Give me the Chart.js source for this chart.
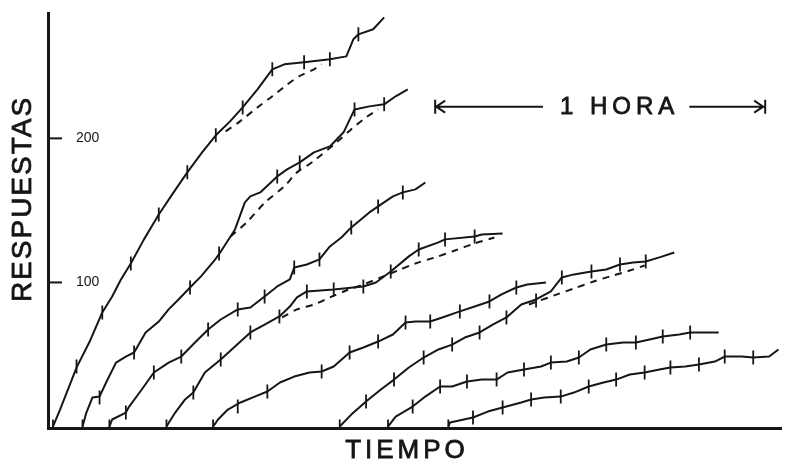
<!DOCTYPE html>
<html><head><meta charset="utf-8">
<script src="https://cdn.jsdelivr.net/npm/chart.js@4"></script>
<style>html,body{margin:0;padding:0;background:#fff}canvas{display:block}</style>
</head><body>
<canvas id="c" width="790" height="465"></canvas>
<script>
// ---- data: x = minutes, y = cumulative responses ----
const record1 = [[0.9,0],[2.2,11.8],[5.2,40.9],[7.6,59.0],[9.9,79.2],[11.7,90.3],[13.3,102.1],[15.1,113.2],[17.5,129.9],[20.2,147.2],[22.9,162.5],[25.4,176.4],[28.1,190.3],[30.6,202.1],[33.2,211.8],[35.5,221.5],[38.2,234.0],[40.9,247.9],[43.1,251.4],[46.7,252.8],[51.4,254.9],[54.4,256.9],[55.7,268.8],[56.6,272.2],[59.3,275.7],[61.3,284.0]];
const record2 = [[6.3,0],[7.0,9.7],[8.1,20.1],[9.4,20.8],[10.6,30.6],[12.4,44.4],[14.2,48.6],[15.7,51.4],[17.8,65.3],[20.2,72.9],[22.0,81.3],[23.8,88.2],[25.9,96.5],[27.9,104.2],[30.5,116.0],[31.4,120.8],[34.1,136.8],[35.9,155.6],[36.9,159.7],[38.7,162.5],[41.8,173.6],[43.6,178.5],[45.9,183.3],[48.5,190.3],[51.4,194.4],[53.9,204.2],[55.9,220.1],[58.6,222.2],[61.3,223.6],[63.4,229.2],[65.6,234.0]];
const record3 = [[11.2,0],[11.7,4.9],[14.2,9.7],[14.8,13.9],[17.1,25.7],[19.3,37.5],[22.0,44.4],[24.3,48.6],[26.8,58.3],[29.2,67.4],[31.5,74.3],[34.6,81.3],[36.9,82.6],[39.5,90.3],[41.8,97.2],[44.1,102.1],[44.9,110.4],[47.2,112.5],[49.5,116.0],[51.4,125.0],[53.5,131.2],[55.3,138.2],[58.6,148.6],[60.2,152.8],[62.9,159.7],[64.7,162.5],[67.0,164.6],[68.8,169.4]];
const record4 = [[21.6,0],[23.2,9.7],[25.0,18.8],[26.5,23.6],[28.6,37.5],[31.5,46.5],[34.1,55.6],[36.9,65.3],[39.5,70.8],[42.2,76.4],[44.1,83.3],[45.4,89.6],[47.2,93.8],[52.1,95.1],[57.5,97.2],[59.8,100.0],[62.5,107.6],[65.8,118.1],[67.6,122.9],[71.2,127.8],[72.4,129.9],[77.8,131.9],[79.1,133.3],[82.9,134.0]];
const record5 = [[30.1,0],[31.0,4.9],[32.8,11.8],[35.1,16.7],[37.7,20.8],[40.0,24.3],[42.3,30.6],[44.9,34.7],[47.7,37.5],[49.9,38.2],[52.1,41.7],[55.0,51.4],[57.5,54.9],[60.2,59.0],[62.9,63.9],[65.2,72.2],[67.0,72.9],[69.7,72.9],[71.9,75.7],[75.1,79.9],[77.8,83.3],[80.5,86.8],[82.7,91.7],[85.4,96.5],[87.4,98.6],[90.8,100.0]];
const record6 = [[53.2,0],[55.3,8.3],[58.0,17.4],[60.7,25.7],[63.1,32.6],[65.8,41.0],[68.5,47.9],[71.2,53.5],[73.7,56.9],[76.0,61.8],[78.7,65.3],[81.1,70.8],[83.6,75.7],[86.3,84.7],[89.0,88.2],[91.7,93.8],[93.7,103.5],[95.9,105.6],[99.1,107.6],[101.8,109.0],[104.3,112.5],[106.7,113.9],[109.0,114.6],[111.5,117.4],[114.2,120.8]];
const record7 = [[62.0,0],[63.4,6.9],[66.5,13.9],[68.8,20.8],[71.5,27.8],[73.7,27.8],[76.4,31.3],[79.1,32.6],[81.8,32.6],[83.8,37.5],[86.8,39.6],[89.9,41.7],[91.7,44.4],[94.6,45.1],[96.8,47.9],[98.9,53.5],[101.8,56.9],[104.9,58.3],[107.2,58.3],[109.7,60.4],[112.1,62.5],[115.1,63.9],[117.1,65.3],[122.3,65.3]];
const record8 = [[73.0,0],[73.3,2.8],[77.5,6.3],[80.2,10.4],[82.9,13.2],[86.3,16.7],[88.1,18.8],[90.5,20.1],[93.5,20.8],[95.9,23.6],[98.6,27.8],[101.3,30.6],[103.6,32.6],[106.1,36.1],[108.8,37.5],[111.5,39.6],[113.5,41.0],[116.2,41.7],[118.7,43.1],[121.6,45.1],[123.4,48.6],[126.5,48.6],[128.6,47.9],[131.5,48.6],[133.2,53.5]];

const pips1 = [[0.9,0],[5.2,41.7],[9.9,79.2],[15.1,113.2],[20.2,147.2],[25.4,176.4],[30.6,202.1],[35.5,221.5],[40.9,247.9],[46.7,252.8],[51.4,254.9],[56.6,272.2]];
const pips2 = [[6.3,0],[9.4,20.1],[15.7,51.4],[25.9,96.5],[31.2,120.1],[41.8,173.6],[45.9,183.3],[55.9,220.1],[61.3,223.6]];
const pips3 = [[11.2,0],[14.2,9.7],[19.3,37.5],[24.3,48.6],[29.2,67.4],[34.6,81.3],[39.5,90.3],[44.9,110.4],[49.5,116.0],[55.3,138.2],[60.2,152.8],[64.7,162.5]];
const pips4 = [[21.6,0],[26.5,23.6],[31.5,46.5],[36.9,65.3],[42.2,76.4],[47.2,93.8],[52.1,95.1],[57.5,97.2],[62.5,107.6],[67.6,122.9],[72.4,129.9],[77.8,131.9]];
const pips5 = [[30.1,0],[34.6,13.9],[40.0,24.3],[49.9,38.2],[55.0,51.4],[60.2,59.0],[65.2,72.2],[69.7,72.9],[75.1,79.9],[80.5,86.8],[85.4,96.5]];
const pips6 = [[53.2,0],[58.0,17.4],[63.1,32.6],[68.5,47.9],[73.7,56.9],[78.7,65.3],[83.6,75.7],[89.0,87.5],[93.7,103.5],[99.1,107.6],[104.3,112.5],[109.0,114.6]];
const pips7 = [[62.0,0],[66.5,13.9],[71.5,27.8],[76.4,31.3],[81.8,32.6],[86.8,39.6],[91.7,44.4],[96.8,47.9],[101.8,56.9],[107.2,58.3],[112.1,62.5],[117.1,65.3]];
const pips8 = [[73.0,0],[77.5,6.3],[82.9,13.2],[88.1,18.8],[93.5,20.8],[98.6,27.8],[103.6,32.6],[108.8,37.5],[113.5,41.0],[118.7,43.1],[123.4,48.6],[128.6,47.9]];

const fit1 = [[32.4,204.9],[35.0,211.8],[38.2,221.5],[40.9,229.2],[43.2,236.1],[45.8,243.1],[48.5,247.9],[49.9,251.4]];
const fit2 = [[33.3,131.9],[36.4,142.4],[39.6,155.6],[43.1,166.7],[45.4,176.4],[48.1,183.3],[52.6,197.2],[55.3,206.3],[58.0,214.6],[60.2,220.1]];
const fit4 = [[42.7,75.7],[45.4,81.3],[48.5,84.7],[51.4,89.6],[54.4,94.4],[57.5,98.6],[60.7,103.5],[63.8,108.3],[67.0,113.2],[70.6,117.4],[74.2,122.2],[77.8,127.1],[81.4,131.2]];
const fit6 = [[87.7,84.7],[89.2,86.8],[92.8,91.7],[95.9,95.8],[99.5,100.7],[102.5,104.2],[106.1,108.3],[108.8,111.8]];

const yTickValues = [100, 200];
const yTitle = 'RESPUESTAS';
const xTitle = 'TIEMPO';
const hourLabel = '1 HORA';
const hourBar = [70.6, 130.6];   // one hour, in minutes
const hourBarLevel = 222;        // height of the scale bar, in responses

// ---- drawing ----
const INK = '#161616';
const FONT = '"Liberation Sans", Arial, Helvetica, sans-serif';
const records = [record1, record2, record3, record4, record5, record6, record7, record8];
const pips = [pips1, pips2, pips3, pips4, pips5, pips6, pips7, pips8];
const fits = [fit1, fit2, fit4, fit6];

const datasets = []
  .concat(records.map(r => ({data: r, showLine: true, borderColor: INK, borderWidth: 2, pointRadius: 0, tension: 0, borderJoinStyle: 'round'})))
  .concat(fits.map(f => ({data: f, showLine: true, borderColor: INK, borderWidth: 2, borderDash: [7, 6], pointRadius: 0, tension: 0.3})))
  .concat(pips.map(p => ({data: p, showLine: false, pointStyle: 'line', pointRotation: 90, pointRadius: 7,
      pointBorderWidth: 1.8, pointBorderColor: INK, borderColor: INK, pointBackgroundColor: INK})));

function spacedText(ctx, text, cx, cy, spacing) {
  ctx.letterSpacing = spacing + 'px';
  const w = ctx.measureText(text).width - spacing;
  ctx.textAlign = 'left';
  ctx.textBaseline = 'middle';
  ctx.fillText(text, cx - w / 2, cy);
  ctx.lineWidth = 0.8;
  ctx.strokeText(text, cx - w / 2, cy);
  ctx.letterSpacing = '0px';
  return w;
}

const decor = {
  id: 'decor',
  afterDraw(chart) {
    const {ctx, scales: {x, y}, chartArea} = chart;
    ctx.save();
    ctx.strokeStyle = INK;
    ctx.fillStyle = INK;
    ctx.lineCap = 'butt';
    // inward tick marks on the y axis
    ctx.lineWidth = 2;
    yTickValues.forEach(v => {
      const py = y.getPixelForValue(v);
      ctx.beginPath(); ctx.moveTo(chartArea.left, py); ctx.lineTo(chartArea.left + 14, py); ctx.stroke();
    });
    // axis titles
    ctx.font = '28px ' + FONT;
    ctx.save();
    ctx.translate(23, 200);
    ctx.rotate(-Math.PI / 2);
    spacedText(ctx, yTitle, 0, 0, 2);
    ctx.restore();
    ctx.font = '26px ' + FONT;
    spacedText(ctx, xTitle, 405, 451, 4);
    // one-hour scale bar
    const x0 = x.getPixelForValue(hourBar[0]);
    const x1 = x.getPixelForValue(hourBar[1]);
    const py = y.getPixelForValue(hourBarLevel);
    ctx.font = '24px ' + FONT;
    const tc = x0 + 182;
    const tw = spacedText(ctx, hourLabel, tc, py + 1, 5);
    ctx.lineWidth = 2;
    ctx.beginPath();
    ctx.moveTo(x0, py); ctx.lineTo(tc - tw / 2 - 17, py);
    ctx.moveTo(tc + tw / 2 + 15, py); ctx.lineTo(x1, py);
    // left |<
    ctx.moveTo(x0, py - 7); ctx.lineTo(x0, py + 7);
    ctx.moveTo(x0 + 10, py - 6); ctx.lineTo(x0 + 1, py); ctx.lineTo(x0 + 10, py + 6);
    // right >|
    ctx.moveTo(x1 + 1, py - 7); ctx.lineTo(x1 + 1, py + 7);
    ctx.moveTo(x1 - 10, py - 6); ctx.lineTo(x1 - 1, py); ctx.lineTo(x1 - 10, py + 6);
    ctx.stroke();
    ctx.restore();
  }
};

new Chart(document.getElementById('c'), {
  type: 'scatter',
  data: {datasets},
  options: {
    responsive: false,
    animation: false,
    events: [],
    layout: {padding: {top: 13, right: 0, left: 0, bottom: 0}},
    plugins: {legend: {display: false}, tooltip: {enabled: false}},
    scales: {
      x: {
        type: 'linear', min: 0, max: 133.7,
        ticks: {display: false},
        grid: {display: false},
        border: {display: true, width: 3, color: INK},
        afterFit: s => { s.height = 37; s.paddingLeft = 0; s.paddingRight = 0; }
      },
      y: {
        type: 'linear', min: -1, max: 287,
        afterBuildTicks: s => { s.ticks = yTickValues.map(v => ({value: v})); },
        ticks: {mirror: true, padding: 28, color: INK, font: {size: 14, family: FONT}},
        grid: {display: false},
        border: {display: true, width: 3, color: INK},
        afterFit: s => { s.width = 48; s.paddingTop = 0; s.paddingBottom = 0; }
      }
    }
  },
  plugins: [decor]
});
</script>
</body></html>
